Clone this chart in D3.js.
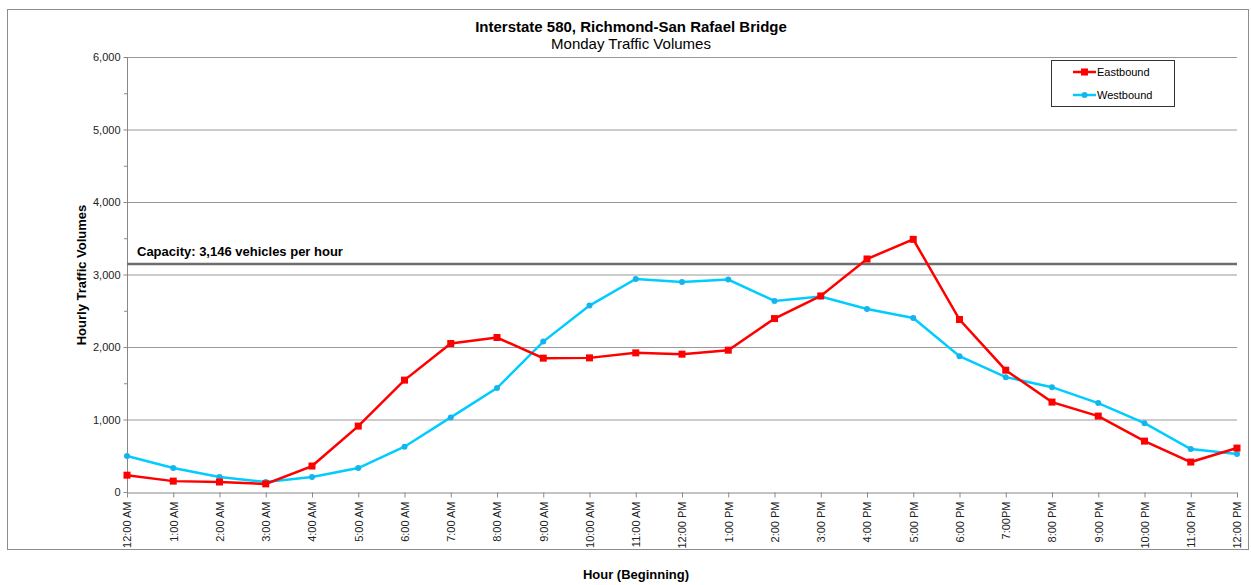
<!DOCTYPE html>
<html>
<head>
<meta charset="utf-8">
<script src="https://cdn.jsdelivr.net/npm/d3@7"></script>
<style>
	body { margin: 0; background: #fff; }
	svg { display: block; font-family: "Liberation Sans", Arial, sans-serif; }
</style>
</head>
<body>
<svg width="1251" height="585"></svg>
<script>
const hours = ['12:00 AM', '1:00 AM', '2:00 AM', '3:00 AM', '4:00 AM', '5:00 AM', '6:00 AM',
	'7:00 AM', '8:00 AM', '9:00 AM', '10:00 AM', '11:00 AM', '12:00 PM', '1:00 PM', '2:00 PM',
	'3:00 PM', '4:00 PM', '5:00 PM', '6:00 PM', '7:00PM', '8:00 PM', '9:00 PM', '10:00 PM',
	'11:00 PM', '12:00 PM '];
const eastbound = [232, 150, 138, 112, 358, 909, 1543, 2048, 2131, 1846, 1850, 1919, 1901,
	1956, 2392, 2704, 3214, 3485, 2379, 1680, 1240, 1047, 702, 413, 606];
const westbound = [496, 330, 207, 138, 207, 330, 624, 1029, 1433, 2075, 2571, 2938, 2897,
	2930, 2635, 2695, 2525, 2401, 1873, 1584, 1446, 1226, 950, 592, 523];
const yTicks = [0, 1000, 2000, 3000, 4000, 5000, 6000];
const capacity = 3146;

const margin = { top: 57, right: 14, bottom: 93, left: 127 };
const width = 1251 - margin.left - margin.right;
const height = 585 - margin.top - margin.bottom;

const svg = d3.select('svg');

// outer frame
svg.append('rect')
	.attr('x', 7.5).attr('y', 9.5)
	.attr('width', 1241).attr('height', 540)
	.attr('fill', 'none').attr('stroke', '#8c8c8c');

svg.append('text')
	.attr('x', 631).attr('y', 32)
	.attr('text-anchor', 'middle')
	.attr('font-size', 15).attr('font-weight', 'bold')
	.text('Interstate 580, Richmond-San Rafael Bridge');
svg.append('text')
	.attr('x', 631).attr('y', 49)
	.attr('text-anchor', 'middle')
	.attr('font-size', 15)
	.text('Monday Traffic Volumes');

const g = svg.append('g')
	.attr('transform', 'translate(' + margin.left + ',' + margin.top + ')');

const xScale = d3.scalePoint()
	.domain(hours)
	.range([0, width]);

const yScale = d3.scaleLinear()
	.domain([0, 6000])
	.range([height, 0]);

// gridlines
g.selectAll('.grid')
	.data(yTicks.slice(1))
	.enter().append('line')
	.attr('x1', 0).attr('x2', width)
	.attr('y1', d => yScale(d) + 0.5).attr('y2', d => yScale(d) + 0.5)
	.attr('stroke', '#999');

// minor ticks
g.selectAll('.minor')
	.data(d3.range(500, 6000, 1000))
	.enter().append('line')
	.attr('x1', -3).attr('x2', 0)
	.attr('y1', d => yScale(d) + 0.5).attr('y2', d => yScale(d) + 0.5)
	.attr('stroke', '#888');

const yAxis = g.append('g')
	.attr('transform', 'translate(0.5,0)')
	.call(d3.axisLeft(yScale).tickValues(yTicks).tickSize(4).tickPadding(3).tickFormat(d3.format(',')));
yAxis.select('.domain').attr('stroke', '#888').attr('d', 'M0,' + (height + 0.5) + 'V0.5');
yAxis.selectAll('.tick line').attr('stroke', '#888');
yAxis.selectAll('text').attr('font-size', 11).attr('fill', '#222');

const xAxis = g.append('g')
	.attr('transform', 'translate(0,' + (height + 0.5) + ')')
	.call(d3.axisBottom(xScale).tickSize(5).tickSizeOuter(0));
xAxis.select('.domain').attr('stroke', '#888');
xAxis.selectAll('.tick line').attr('stroke', '#888');
xAxis.selectAll('text')
	.attr('font-size', 11).attr('fill', '#222')
	.attr('transform', 'rotate(-90)')
	.attr('text-anchor', 'end')
	.attr('x', -9).attr('y', 0).attr('dy', '0.35em');

// capacity line
g.append('line')
	.attr('x1', 0).attr('x2', width)
	.attr('y1', yScale(capacity)).attr('y2', yScale(capacity))
	.attr('stroke', '#6e6e6e').attr('stroke-width', 2.5);
g.append('text')
	.attr('x', 10).attr('y', yScale(capacity) - 8)
	.attr('font-size', 13).attr('font-weight', 'bold')
	.text('Capacity: 3,146 vehicles per hour');

const line = d3.line()
	.x((d, i) => xScale(hours[i]))
	.y(d => yScale(d));

g.append('path')
	.datum(westbound)
	.attr('fill', 'none').attr('stroke', '#00ccff').attr('stroke-width', 2.5)
	.attr('d', line);
g.selectAll('.wdot')
	.data(westbound)
	.enter().append('circle')
	.attr('cx', (d, i) => xScale(hours[i]))
	.attr('cy', d => yScale(d))
	.attr('r', 3)
	.attr('fill', '#14b4ee');

g.append('path')
	.datum(eastbound)
	.attr('fill', 'none').attr('stroke', '#ff0000').attr('stroke-width', 2.5)
	.attr('d', line);
g.selectAll('.edot')
	.data(eastbound)
	.enter().append('rect')
	.attr('x', (d, i) => xScale(hours[i]) - 3.5)
	.attr('y', d => yScale(d) - 3.5)
	.attr('width', 7).attr('height', 7)
	.attr('fill', '#ff0000');

// legend
const legend = svg.append('g');
legend.append('rect')
	.attr('x', 1051.5).attr('y', 60.5)
	.attr('width', 123).attr('height', 46)
	.attr('fill', '#fff').attr('stroke', '#333');
const items = [
	{ name: 'Eastbound', color: '#ff0000', shape: 'square', y: 72 },
	{ name: 'Westbound', color: '#00ccff', shape: 'circle', y: 95 }
];
items.forEach(it => {
	legend.append('line')
		.attr('x1', 1073).attr('x2', 1096)
		.attr('y1', it.y).attr('y2', it.y)
		.attr('stroke', it.color).attr('stroke-width', 2.5);
	if (it.shape === 'square') {
		legend.append('rect')
			.attr('x', 1081).attr('y', it.y - 3.5)
			.attr('width', 7).attr('height', 7)
			.attr('fill', it.color);
	} else {
		legend.append('circle')
			.attr('cx', 1084.5).attr('cy', it.y).attr('r', 3)
			.attr('fill', '#14b4ee');
	}
	legend.append('text')
		.attr('x', 1097).attr('y', it.y + 4)
		.attr('font-size', 11)
		.text(it.name);
});

// axis titles
svg.append('text')
	.attr('transform', 'translate(86,275) rotate(-90)')
	.attr('text-anchor', 'middle')
	.attr('font-size', 13).attr('font-weight', 'bold')
	.text('Hourly Traffic Volumes');
svg.append('text')
	.attr('x', 636).attr('y', 579)
	.attr('text-anchor', 'middle')
	.attr('font-size', 13).attr('font-weight', 'bold')
	.text('Hour (Beginning)');
</script>
</body>
</html>
